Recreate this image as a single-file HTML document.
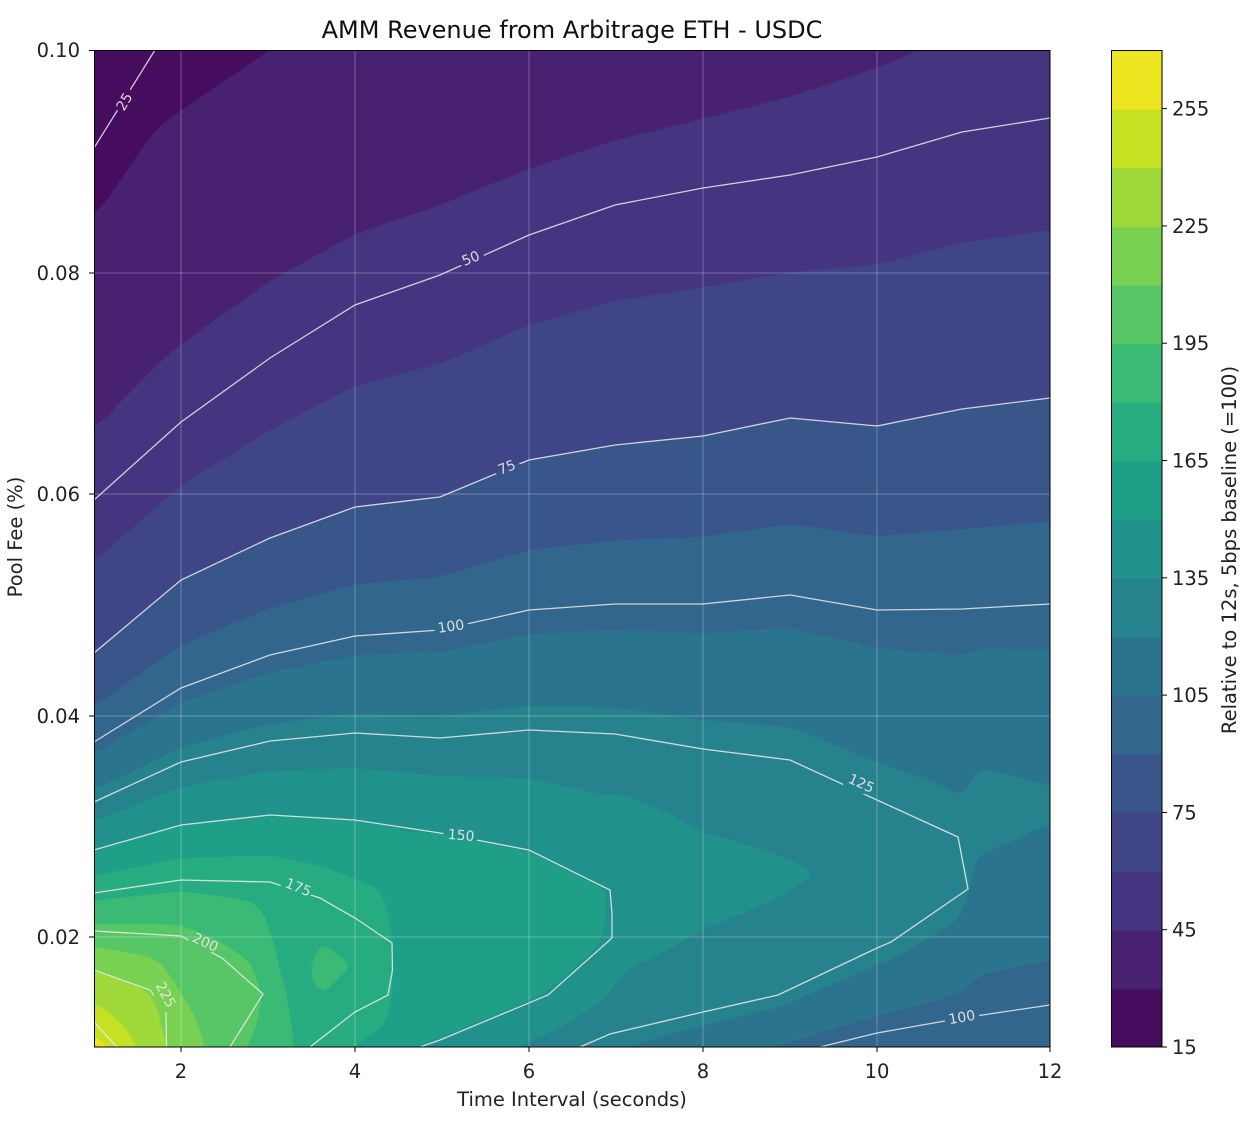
<!DOCTYPE html>
<html><head><meta charset="utf-8">
<style>
html,body{margin:0;padding:0;background:#fff;}
body{width:1248px;height:1124px;position:relative;overflow:hidden;font-family:"DejaVu Sans","Liberation Sans",sans-serif;}
#cv{position:absolute;left:94px;top:50px;}
#cb{position:absolute;left:1111px;top:50px;}
svg{position:absolute;left:0;top:0;}
</style></head>
<body>
<canvas id="cv" width="956" height="997"></canvas>
<canvas id="cb" width="51" height="997"></canvas>
<svg width="1248" height="1124" xmlns="http://www.w3.org/2000/svg">
<defs><mask id="m"><rect x="0" y="0" width="1248" height="1124" fill="#fff"/>
<g fill="#000">
<ellipse cx="125" cy="102" rx="9" ry="15"/>
<ellipse cx="471" cy="259" rx="14" ry="9"/>
<ellipse cx="507" cy="468" rx="14" ry="9"/>
<ellipse cx="451" cy="627" rx="18" ry="9"/>
<ellipse cx="861" cy="784" rx="18" ry="10"/>
<ellipse cx="461" cy="836" rx="18" ry="9"/>
<ellipse cx="298" cy="888" rx="18" ry="10"/>
<ellipse cx="205" cy="943" rx="17" ry="10"/>
<ellipse cx="165" cy="995" rx="11" ry="17"/>
<ellipse cx="962" cy="1018" rx="18" ry="9"/>
</g></mask></defs>
<g id="grid" stroke="rgba(255,255,255,0.28)" stroke-width="1">
<line x1="181" y1="50" x2="181" y2="1047"/><line x1="355" y1="50" x2="355" y2="1047"/>
<line x1="529" y1="50" x2="529" y2="1047"/><line x1="703" y1="50" x2="703" y2="1047"/>
<line x1="877" y1="50" x2="877" y2="1047"/>
<line x1="94" y1="273" x2="1050" y2="273"/><line x1="94" y1="494" x2="1050" y2="494"/>
<line x1="94" y1="716" x2="1050" y2="716"/><line x1="94" y1="937" x2="1050" y2="937"/>
</g>
<g id="lines" fill="none" stroke="rgba(235,235,235,0.85)" stroke-width="1.3" mask="url(#m)"></g>
<g font-size="14" fill="rgba(235,235,235,0.9)" text-anchor="middle" dominant-baseline="central">
<text transform="translate(125,102) rotate(-60)">25</text>
<text transform="translate(471,259) rotate(-22)">50</text>
<text transform="translate(507,468) rotate(-22)">75</text>
<text transform="translate(451,627) rotate(-8)">100</text>
<text transform="translate(861,784) rotate(25)">125</text>
<text transform="translate(461,836) rotate(5)">150</text>
<text transform="translate(298,888) rotate(22)">175</text>
<text transform="translate(205,943) rotate(25)">200</text>
<text transform="translate(165,995) rotate(62)">225</text>
<text transform="translate(962,1018) rotate(-10)">100</text>
</g>
<rect x="94.5" y="50.5" width="955.5" height="996.5" fill="none" stroke="#000" stroke-width="1"/>
<rect x="1111.5" y="50.5" width="50.5" height="996.5" fill="none" stroke="#000" stroke-width="1"/>
<g stroke="#000" stroke-width="1">
<line x1="181" y1="1047" x2="181" y2="1052"/><line x1="355" y1="1047" x2="355" y2="1052"/>
<line x1="529" y1="1047" x2="529" y2="1052"/><line x1="703" y1="1047" x2="703" y2="1052"/>
<line x1="877" y1="1047" x2="877" y2="1052"/><line x1="1050" y1="1047" x2="1050" y2="1052"/>
<line x1="89" y1="50.5" x2="94" y2="50.5"/><line x1="89" y1="273" x2="94" y2="273"/>
<line x1="89" y1="494" x2="94" y2="494"/><line x1="89" y1="716" x2="94" y2="716"/>
<line x1="89" y1="937" x2="94" y2="937"/>
</g>
<g id="cbt" stroke="#000" stroke-width="1"></g>
<g font-size="19.5" fill="#222" text-anchor="middle">
<text x="181" y="1078">2</text><text x="355" y="1078">4</text><text x="529" y="1078">6</text>
<text x="703" y="1078">8</text><text x="877" y="1078">10</text><text x="1050" y="1078">12</text>
</g>
<g font-size="19.5" fill="#222" text-anchor="end">
<text x="80" y="57">0.10</text><text x="80" y="280">0.08</text><text x="80" y="501">0.06</text>
<text x="80" y="723">0.04</text><text x="80" y="944">0.02</text>
</g>
<g id="cbl" font-size="19.5" fill="#222"></g>
<text x="572" y="38" font-size="24" text-anchor="middle" fill="#111">AMM Revenue from Arbitrage ETH - USDC</text>
<text x="572" y="1106" font-size="19.5" text-anchor="middle" fill="#222">Time Interval (seconds)</text>
<text transform="translate(22,537) rotate(-90)" font-size="19.5" text-anchor="middle" fill="#222">Pool Fee (%)</text>
<text transform="translate(1236,550) rotate(-90)" font-size="19.5" text-anchor="middle" fill="#222">Relative to 12s, 5bps baseline (=100)</text>
</svg>
<script>
const VIR=["#440154","#48186a","#472d7b","#424086","#3b528b","#33638d","#2c728e","#26828e","#21918c","#1fa088","#28ae80","#3fbc73","#5ec962","#84d44b","#addc30","#d8e219","#fde725"];
function hx(h){return [parseInt(h.substr(1,2),16),parseInt(h.substr(3,2),16),parseInt(h.substr(5,2),16)];}
function vir(t){t=Math.max(0,Math.min(1,t));const f=t*16,i=Math.min(15,Math.floor(f)),r=f-i;const a=hx(VIR[i]),b=hx(VIR[i+1]);return [0,1,2].map(k=>Math.round(a[k]+(b[k]-a[k])*r));}
const COLS=[];for(let i=0;i<17;i++)COLS.push(vir((i+0.5)/17));
const C=[
{v:25,u:[[94,148],[155,50]]},
{v:50,u:[[94,500],[181,422],[270,358],[355,305],[440,275],[529,235],[615,205],[703,188],[790,175],[877,157],[962,132],[1050,118]]},
{v:75,u:[[94,653],[181,580],[270,538],[355,507],[440,497],[529,460],[615,445],[703,436],[790,418],[877,426],[962,409],[1050,398]]},
{v:100,u:[[94,742],[181,688],[270,655],[355,636],[440,630],[529,610],[615,604],[703,604],[790,595],[877,610],[962,609],[1050,604]],l:[[820,1047],[877,1033],[962,1018],[1050,1005]],sep:true},
{v:125,u:[[94,802],[181,762],[270,741],[355,733],[440,738],[529,730],[615,734],[703,749],[790,760],[877,800],[958,837],[968,889]],l:[[580,1047],[610,1034],[703,1012],[778,995],[877,948],[891,942],[968,889]]},
{v:150,u:[[94,850],[181,825],[270,815],[355,820],[440,833],[529,850],[610,890],[612,914]],l:[[420,1047],[440,1040],[548,995],[612,938],[612,914]]},
{v:175,u:[[94,893],[181,880],[270,882],[320,898],[355,918],[392,943],[392.5,970]],l:[[310,1047],[355,1012],[388,995],[392.5,970]]},
{v:200,u:[[94,931],[181,936],[222,958],[263,994]],l:[[230,1047],[263,994]]},
{v:225,u:[[94,970],[150,990],[166,1012],[166.5,1047]]},
{v:250,u:[[94,1022],[117,1047]]}
];
function pw(pts,x){if(x<pts[0][0]||x>pts[pts.length-1][0])return null;for(let i=0;i<pts.length-1;i++){const a=pts[i],b=pts[i+1];if(x>=a[0]&&x<=b[0]){if(b[0]===a[0])return a[1];return a[1]+(b[1]-a[1])*(x-a[0])/(b[0]-a[0]);}}return null;}
function pwc(pts,x){if(x<=pts[0][0])return pts[0][1];if(x>=pts[pts.length-1][0])return pts[pts.length-1][1];return pw(pts,x);}
const VTOP=[[94,12],[155,25],[270,30],[529,36],[700,40],[920,45],[1050,48]];
const VBOT=[[94,262],[117,250],[166.5,225],[230,200],[310,175],[420,150],[580,125],[820,100],[1050,90]];
const PEAK=[[229,212],[263,202],[310,184],[392,176],[420,166],[500,160],[612,151],[700,141],[800,136],[890,130],[968,126],[1050,122]];
const cv=document.getElementById('cv'),ctx=cv.getContext('2d');
const W=956,H=997,img=ctx.createImageData(W,H);
let F=new Float32Array(W*H);
for(let c=0;c<W;c++){
 const px=94+c+0.5;
 const ups=[],lows=[];
 for(const k of C){const y=pw(k.u,px);if(y!==null)ups.push([y,k.v]);if(k.l){const yl=pw(k.l,px);if(yl!==null)lows.push([yl,k.v]);}}
 let kn=[[50,pwc(VTOP,px)]].concat(ups,lows);
 if(lows.length){const mu=Math.max(...ups.map(a=>a[0])),ml=Math.min(...lows.map(a=>a[0]));kn.push([(mu+ml)/2,pwc(PEAK,px)]);}
 kn.push([1047,pwc(VBOT,px)]);
 kn.sort((a,b)=>a[0]-b[0]);
 let j=0;
 for(let r=0;r<H;r++){
  const py=50+r+0.5;
  while(j<kn.length-2&&py>kn[j+1][0])j++;
  const a=kn[j],b=kn[j+1];
  F[r*W+c]=b[0]===a[0]?a[1]:a[1]+(b[1]-a[1])*(py-a[0])/(b[0]-a[0]);
 }
}
function blurH(src,R){const o=new Float32Array(W*H);for(let r=0;r<H;r++){for(let c=0;c<W;c++){let s=0,n=0;for(let k=-R;k<=R;k++){let cc=c+k;if(cc<0)cc=0;if(cc>=W)cc=W-1;s+=src[r*W+cc];n++;}o[r*W+c]=s/n;}}return o;}
function blurV(src,R){const o=new Float32Array(W*H);for(let c=0;c<W;c++){for(let r=0;r<H;r++){let s=0,n=0;for(let k=-R;k<=R;k++){let rr=r+k;if(rr<0)rr=0;if(rr>=H)rr=H-1;s+=src[rr*W+c];n++;}o[r*W+c]=s/n;}}return o;}
F=blurV(blurH(F,9),4);F=blurV(blurH(F,9),4);
for(let i=0;i<W*H;i++){let bi=Math.floor((F[i]-15)/15);bi=Math.max(0,Math.min(16,bi));const col=COLS[bi],o=i*4;img.data[o]=col[0];img.data[o+1]=col[1];img.data[o+2]=col[2];img.data[o+3]=255;}
ctx.putImageData(img,0,0);
const cb=document.getElementById('cb').getContext('2d');
const bh=997/17;
for(let i=0;i<17;i++){const c=COLS[i];cb.fillStyle=`rgb(${c[0]},${c[1]},${c[2]})`;cb.fillRect(0,997-(i+1)*bh,51,bh+1);}
const NS="http://www.w3.org/2000/svg";
const lg=document.getElementById('lines');
for(const k of C){let pts=k.u.slice();
 if(k.l&&!k.sep){pts=pts.concat(k.l.slice().reverse());}
 const pl=document.createElementNS(NS,'polyline');pl.setAttribute('points',pts.map(p=>p.join(',')).join(' '));lg.appendChild(pl);
 if(k.sep){const p2=document.createElementNS(NS,'polyline');p2.setAttribute('points',k.l.map(p=>p.join(',')).join(' '));lg.appendChild(p2);}
}
const tg=document.getElementById('cbt'),tl=document.getElementById('cbl');
for(let v=15;v<=255;v+=30){const y=1047-(v-15)*997/255;
 const l=document.createElementNS(NS,'line');l.setAttribute('x1',1162);l.setAttribute('x2',1167);l.setAttribute('y1',y);l.setAttribute('y2',y);tg.appendChild(l);
 const t=document.createElementNS(NS,'text');t.setAttribute('x',1172);t.setAttribute('y',y+7);t.textContent=v;tl.appendChild(t);}
</script>
</body></html>
